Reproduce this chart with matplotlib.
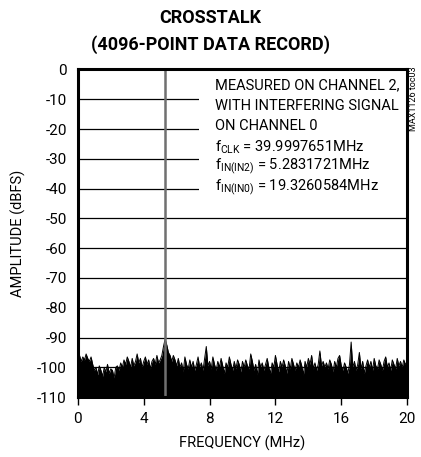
import matplotlib
matplotlib.use("Agg")
import matplotlib.pyplot as plt
import numpy as np
from matplotlib.patches import Rectangle

plt.rcParams['font.family'] = ['Roboto', 'DejaVu Sans']
plt.rcParams['mathtext.fontset'] = 'custom'
plt.rcParams['mathtext.rm'] = 'Roboto'
plt.rcParams['axes.unicode_minus'] = False

# noise floor, one value per 0.1 MHz (0 .. 20 MHz)
amp = [
    -97, -96, -98, -96.5, -97.5, -95.5, -97, -98, -96.5,
    -99, -101, -100, -102.5, -99.5, -101, -103, -100, -101.5, -99, -102, -100.5, -101, -103.5, -100, -99.5, -101,
    -98.5, -100, -97.5, -99, -96.5, -98, -100, -97, -99.5, -98, -95.5, -98.5, -97, -100, -98, -96.5, -99, -97.5,
    -100.5, -98, -97, -99, -96, -98.5, -97.5,
    -96, -93, -90.5, -92.5, -95, -96, -98, -96, -97.5,
    -99.5, -97, -100, -98.5, -101.5, -96.5, -99, -100.5, -97.5, -100, -98, -101, -99, -96.5, -100, -98.5, -101,
    -97, -93, -99.5, -98, -100.5, -96.5, -99, -101, -98, -100, -97, -99.5, -102, -98.5, -100, -96.5, -99, -101,
    -98, -100.5, -97.5, -99, -101.5, -98,
    -100, -97.5, -99.5, -100.5, -95.5, -98, -101, -99, -102.5, -97.5, -100, -98.5, -101, -99, -97, -100, -102,
    -98.5, -100, -96, -99, -101.5, -98, -100, -97.5, -99.5, -102, -98, -100.5, -97, -99, -101, -98.5, -100,
    -97.5, -99.5, -102.5, -98, -100, -97, -99, -96, -100.5, -98.5, -101, -99, -94.5, -99.5, -98, -100,
    -98.5, -100.5, -97.5, -99, -101.5, -98, -100, -97, -96, -99.5, -101, -98.5, -100, -102, -99, -91.5, -100,
    -98, -101, -99, -95, -100.5, -98, -102, -99.5, -97.5, -100, -98, -101, -97, -99.5, -100.5, -97.5, -99,
    -101, -98, -96.5, -100, -98.5, -101, -97.5, -99, -100.5, -97, -99.5, -98, -100, -97.5, -99, -98.5,
]
freq = np.arange(len(amp)) * 0.1

tone_freq = 5.2831721
tone_amp = 0

yticks = [0, -10, -20, -30, -40, -50, -60, -70, -80, -90, -100, -110]
xticks = [0, 4, 8, 12, 16, 20]

fig = plt.figure(figsize=(4.21, 4.57), dpi=100)
ax = fig.add_axes([0.185, 0.131, 0.782, 0.717])

ax.fill_between(freq, -110, amp, color='black', lw=0, zorder=3)
ax.plot(freq, amp, color='black', lw=0.7, zorder=3)
ax.vlines(tone_freq, -110, tone_amp, color='#707070', lw=1.8, zorder=4)

ax.set_xlim(0, 20)
ax.set_ylim(-110, 0)
ax.set_xticks(xticks)
ax.set_yticks(yticks)
ax.yaxis.grid(True, color='black', lw=0.9)
ax.tick_params(axis='y', length=0, labelsize=11, pad=8)
ax.tick_params(axis='x', length=6, width=1, labelsize=11, direction='out', pad=5)
for s in ax.spines.values():
    s.set_linewidth(2.2)
    s.set_zorder(6)

ax.set_xlabel('FREQUENCY (MHz)', fontsize=10.5, labelpad=7)
ax.set_ylabel('AMPLITUDE (dBFS)', fontsize=10.5, labelpad=8)

ax.add_patch(Rectangle((0.368, 0.6), 0.63, 0.4, transform=ax.transAxes,
                       facecolor='white', edgecolor='none', zorder=2))
lines = ['MEASURED ON CHANNEL 2,',
         'WITH INTERFERING SIGNAL',
         'ON CHANNEL 0',
         r'f$_{\rm CLK}$ = 39.9997651MHz',
         r'f$_{\rm IN(IN2)}$ = 5.2831721MHz',
         r'f$_{\rm IN(IN0)}$ = 19.3260584MHz']
for i, t in enumerate(lines):
    ax.text(0.416, 0.953 - i * 0.063, t, transform=ax.transAxes, fontsize=10.5,
            va='center', ha='left', zorder=5)

fig.text(0.5, 0.96, 'CROSSTALK', ha='center', va='center', fontsize=13, fontweight='bold')
fig.text(0.5, 0.902, '(4096-POINT DATA RECORD)', ha='center', va='center', fontsize=13, fontweight='bold')
fig.text(0.982, 0.783, 'MAX1126 toc03', rotation=90, ha='center', va='center', fontsize=6.5)

fig.savefig('out.png', dpi=100)
